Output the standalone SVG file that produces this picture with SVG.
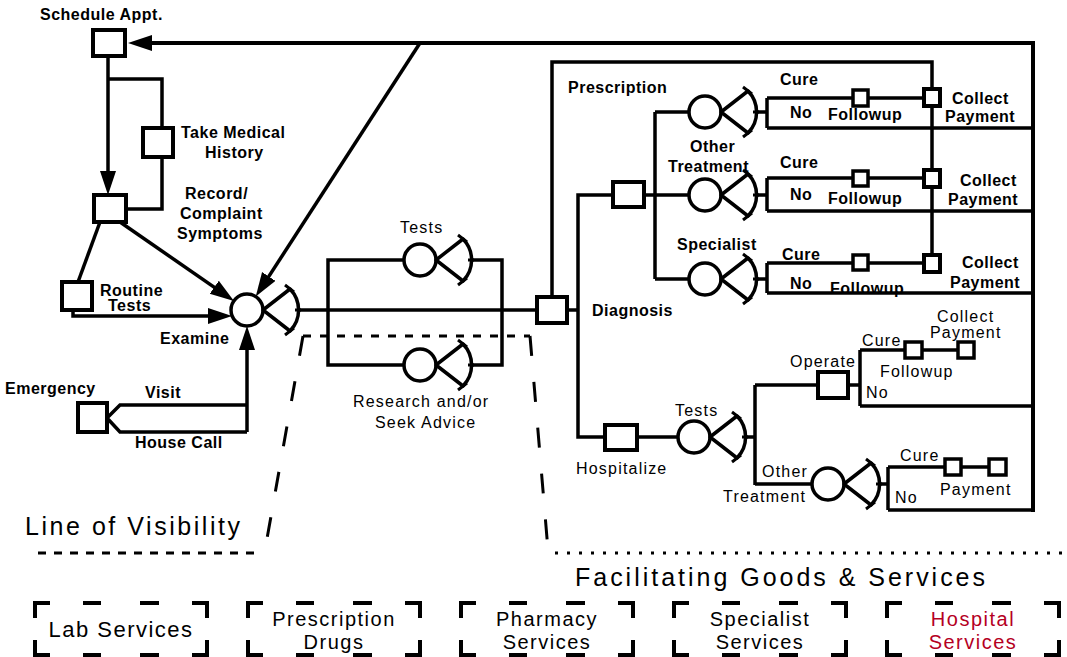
<svg xmlns="http://www.w3.org/2000/svg" xmlns:xlink="http://www.w3.org/1999/xlink" width="1067" height="657" viewBox="0 0 1067 657">
<style>
.ln{fill:none;stroke:#000;stroke-width:3.5;stroke-linejoin:miter}
.tk{fill:none;stroke:#000;stroke-width:4}
.bx{fill:#fff;stroke:#000;stroke-width:4}
.sb{fill:#fff;stroke:#000;stroke-width:3.5}
.b{font-family:"Liberation Sans",Arial,sans-serif;font-weight:bold;font-size:16px;letter-spacing:0.5px;fill:#000}
.r{font-family:"Liberation Sans",Arial,sans-serif;font-size:16px;letter-spacing:1.2px;fill:#000}
.big{font-family:"Liberation Sans",Arial,sans-serif;font-size:25px;fill:#000}
.lab{font-family:"Liberation Sans",Arial,sans-serif;font-size:20px;letter-spacing:1.5px;fill:#000;text-anchor:middle}
.red{fill:#b5001f}
.dsh{fill:none;stroke:#000;stroke-width:3}
</style>
<defs>
<marker id="ah" markerUnits="userSpaceOnUse" markerWidth="26" markerHeight="18" refX="16" refY="8" orient="auto" viewBox="0 0 26 18">
<path d="M0,0 L24,8 L0,16 z" fill="#000"/>
</marker>
<g id="bt">
<circle cx="0" cy="0" r="16" fill="#fff" stroke="#000" stroke-width="3.5"/>
<path d="M16,0 L43,-21 A30,30 0 0 1 43,21 Z" fill="#fff" stroke="#000" stroke-width="3.5" stroke-linejoin="round"/>
<path d="M38,-25 L47,-18 M38,25 L47,18 M48,0 H54" fill="none" stroke="#000" stroke-width="3"/>
</g>
<g id="fbox">
<path d="M0,15 V0 H15 M157,0 H172 V15 M0,37 V52 H15 M157,52 H172 V37 M48,0 H66 M105,0 H124 M48,52 H66 M105,52 H124" fill="none" stroke="#000" stroke-width="4"/>
</g>
</defs>
<rect width="1067" height="657" fill="#fff"/>

<g id="connectors">
<path class="tk" d="M1033,512 V43 H136" marker-end="url(#ah)"/>
<path class="ln" d="M108,56 V187" marker-end="url(#ah)"/>
<path class="ln" d="M108,79 H162 V128 M162,157 V209 H126"/>
<path class="ln" d="M120,222 L227.4,296.4" marker-end="url(#ah)"/>
<path class="ln" d="M100,222 L78,282"/>
<path class="ln" d="M73,310 V316 H224" marker-end="url(#ah)"/>
<path class="ln" d="M420,43 L260.1,289.9" marker-end="url(#ah)"/>
<path class="ln" d="M107,418 L120,405 H247 M107,418 L120,432 H247"/>
<path class="ln" d="M247,432 V334" marker-end="url(#ah)"/>
<path class="ln" d="M300,310 H537"/>
<path class="ln" d="M328,310 V260 H404 M473,260 H502 V365 H473 M404,365 H328 V310"/>
<path class="ln" d="M567,310 H578 M613,195 H578 V437 H605"/>
<path class="ln" d="M552,297 V62 H932 V255"/>
<path class="ln" d="M644,195 H689 M655,112 V279 M655,112 H689 M655,279 H689"/>
<path class="ln" d="M758,112 H767 M767,98 V128 M767,98 H924 M767,128 H1033"/>
<path class="ln" d="M758,195 H767 M767,178 V211 M767,178 H924 M767,211 H1033"/>
<path class="ln" d="M758,279 H767 M767,263 V293 M767,263 H924 M767,293 H1033"/>
<path class="ln" d="M637,437 H678 M747,437 H755 M755,385 V485 M755,385 H818 M848,385 H860 M860,350 V406 M860,350 H958 M860,406 H1033"/>
<path class="ln" d="M755,484 H812 M881,484 H888 M888,467 V510 M888,467 H988 M888,510 H1033"/>
<path class="dsh" d="M303,336 H530" stroke-dasharray="8 9"/>
<path class="dsh" d="M303,336 L265,550 M530,336 L548,550" stroke-width="3.5" stroke-dasharray="20 26"/>
<path class="dsh" d="M38,553 H258" stroke-dasharray="8 8"/>
<path class="dsh" d="M555,553 H1062" stroke-width="3.5" stroke-dasharray="3 9"/>
</g>

<g id="schedule"><rect class="bx" x="93" y="30" width="32" height="26"/><text class="b" x="40" y="20">Schedule Appt.</text></g>
<g id="history"><rect class="bx" x="143" y="128" width="30" height="29"/><text class="b" x="181" y="138">Take Medical</text><text class="b" x="205" y="158">History</text></g>
<g id="record"><rect class="bx" x="94" y="195" width="32" height="27"/><text class="b" x="185" y="199">Record/</text><text class="b" x="180" y="219">Complaint</text><text class="b" x="177" y="239">Symptoms</text></g>
<g id="routine"><rect class="bx" x="62" y="282" width="30" height="28"/><text class="b" x="100" y="296">Routine</text><text class="b" x="108" y="311">Tests</text></g>
<g id="examine"><use xlink:href="#bt" href="#bt" x="247" y="310"/><text class="b" x="160" y="344">Examine</text></g>
<g id="emergency"><rect class="bx" x="78" y="403" width="29" height="29"/><text class="b" x="5" y="394">Emergency</text><text class="b" x="145" y="398">Visit</text><text class="b" x="135" y="448">House Call</text></g>
<g id="tests"><use xlink:href="#bt" href="#bt" x="420" y="260"/><text class="r" x="400" y="233">Tests</text></g>
<g id="research"><use xlink:href="#bt" href="#bt" x="420" y="365"/><text class="r" x="353" y="407">Research and/or</text><text class="r" x="375" y="428">Seek Advice</text></g>
<g id="diagnosis"><rect class="bx" x="537" y="297" width="30" height="26"/><text class="b" x="592" y="316">Diagnosis</text></g>
<g id="treatbox"><rect class="bx" x="613" y="182" width="31" height="25"/></g>
<g id="prescription"><use xlink:href="#bt" href="#bt" x="705" y="112"/><text class="b" x="568" y="93">Prescription</text>
<text class="b" x="780" y="85">Cure</text><text class="b" x="790" y="118">No</text><text class="b" x="828" y="120">Followup</text></g>
<g id="followup1"><rect class="sb" x="853" y="90" width="15" height="16"/></g>
<g id="collect1"><rect class="bx" x="924" y="89" width="16" height="17"/><text class="b" x="952" y="104">Collect</text><text class="b" x="945" y="122">Payment</text></g>
<g id="othertreat"><use xlink:href="#bt" href="#bt" x="705" y="195"/><text class="b" x="690" y="152">Other</text><text class="b" x="668" y="172">Treatment</text>
<text class="b" x="780" y="168">Cure</text><text class="b" x="790" y="200">No</text><text class="b" x="828" y="204">Followup</text></g>
<g id="followup2"><rect class="sb" x="853" y="171" width="15" height="15"/></g>
<g id="collect2"><rect class="bx" x="924" y="170" width="16" height="17"/><text class="b" x="960" y="186">Collect</text><text class="b" x="948" y="205">Payment</text></g>
<g id="specialist"><use xlink:href="#bt" href="#bt" x="705" y="279"/><text class="b" x="677" y="250">Specialist</text>
<text class="b" x="782" y="260">Cure</text><text class="b" x="790" y="289">No</text><text class="b" x="830" y="294">Followup</text></g>
<g id="followup3"><rect class="sb" x="853" y="255" width="15" height="15"/></g>
<g id="collect3"><rect class="bx" x="924" y="255" width="16" height="17"/><text class="b" x="962" y="268">Collect</text><text class="b" x="950" y="288">Payment</text></g>
<g id="hospitalize"><rect class="bx" x="605" y="425" width="32" height="25"/><text class="r" x="576" y="474">Hospitalize</text></g>
<g id="htests"><use xlink:href="#bt" href="#bt" x="694" y="437"/><text class="r" x="675" y="416">Tests</text></g>
<g id="operate"><rect class="bx" x="818" y="372" width="30" height="26"/><text class="r" x="790" y="367">Operate</text>
<text class="r" x="862" y="346">Cure</text><text class="r" x="880" y="377">Followup</text><text class="r" x="866" y="398">No</text></g>
<g id="hfollow"><rect class="sb" x="905" y="342" width="17" height="16"/></g>
<g id="hcollect"><rect class="sb" x="958" y="342" width="16" height="16"/><text class="r" x="937" y="322">Collect</text><text class="r" x="930" y="338">Payment</text></g>
<g id="hother"><use xlink:href="#bt" href="#bt" x="828" y="484"/><text class="r" x="762" y="477">Other</text><text class="r" x="723" y="502">Treatment</text>
<text class="r" x="900" y="461">Cure</text><text class="r" x="895" y="503">No</text><text class="r" x="940" y="495">Payment</text></g>
<g id="hcure"><rect class="sb" x="945" y="459" width="16" height="16"/></g>
<g id="hpay"><rect class="sb" x="989" y="459" width="17" height="16"/></g>

<g id="visibility"><text class="big" x="25" y="535" textLength="215" lengthAdjust="spacing">Line of Visibility</text></g>
<g id="facilitating"><text class="big" x="575" y="586" textLength="410" lengthAdjust="spacing">Facilitating Goods &amp; Services</text></g>
<g id="lab"><use xlink:href="#fbox" href="#fbox" x="35" y="603"/><text class="lab" x="121" y="637" style="font-size:22px;letter-spacing:1.5px">Lab Services</text></g>
<g id="drugs"><use xlink:href="#fbox" href="#fbox" x="248" y="603"/><text class="lab" x="334" y="626">Prescription</text><text class="lab" x="334" y="649">Drugs</text></g>
<g id="pharmacy"><use xlink:href="#fbox" href="#fbox" x="461" y="603"/><text class="lab" x="547" y="626">Pharmacy</text><text class="lab" x="547" y="649">Services</text></g>
<g id="specservices"><use xlink:href="#fbox" href="#fbox" x="674" y="603"/><text class="lab" x="760" y="626">Specialist</text><text class="lab" x="760" y="649">Services</text></g>
<g id="hospservices"><use xlink:href="#fbox" href="#fbox" x="887" y="603"/><text class="lab red" x="973" y="626">Hospital</text><text class="lab red" x="973" y="649">Services</text></g>
</svg>
